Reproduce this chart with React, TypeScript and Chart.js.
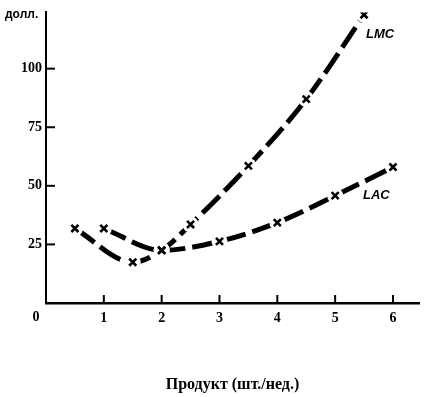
import { useEffect, useRef } from 'react';
import { Chart, registerables } from 'chart.js';
Chart.register(...registerables);

const lmcX = [0.5, 1.5, 2, 2.5, 3.5, 4.5, 5.5];
const lmcY = [31.8, 17.4, 22.5, 33.5, 58.5, 87, 123];
const lacX = [1, 2, 3, 4, 5, 6];
const lacY = [31.8, 22.5, 26.3, 34.3, 45.8, 58];
const xTicks = [1, 2, 3, 4, 5, 6];
const yTicks = [25, 50, 75, 100];
const xTitle = 'Продукт (шт./нед.)';
const yUnit = 'долл.';
const lmcLabel = 'LMC';
const lacLabel = 'LAC';

const pts = (xs: number[], ys: number[]) => xs.map((x, i) => ({ x, y: ys[i] }));

const decor = {
  id: 'decor',
  afterDraw(chart: any) {
    const { ctx } = chart;
    const x = chart.scales.x;
    const y = chart.scales.y;
    ctx.save();
    ctx.strokeStyle = '#000';
    ctx.lineWidth = 2;
    yTicks.forEach((v) => {
      const py = y.getPixelForValue(v);
      ctx.beginPath();
      ctx.moveTo(x.left, py);
      ctx.lineTo(x.left + 9, py);
      ctx.stroke();
    });
    xTicks.forEach((v) => {
      const px = x.getPixelForValue(v);
      ctx.beginPath();
      ctx.moveTo(px, y.bottom);
      ctx.lineTo(px, y.bottom - 8);
      ctx.stroke();
    });
    ctx.fillStyle = '#000';
    ctx.textBaseline = 'middle';
    ctx.textAlign = 'center';
    ctx.font = 'bold 14px "Liberation Serif"';
    ctx.fillText('0', x.left - 10, y.bottom + 14);
    ctx.textAlign = 'left';
    ctx.font = 'bold 12px "Liberation Sans"';
    ctx.fillText(yUnit, 5, 15);
    ctx.font = 'italic bold 13px "Liberation Sans"';
    const lmcPx = x.getPixelForValue(lmcX[lmcX.length - 1]);
    const lmcPy = y.getPixelForValue(lmcY[lmcY.length - 1]);
    ctx.fillText(lmcLabel, lmcPx + 2, lmcPy + 20);
    const lacPx = x.getPixelForValue(lacX[lacX.length - 1]);
    const lacPy = y.getPixelForValue(lacY[lacY.length - 1]);
    ctx.fillText(lacLabel, lacPx - 30, lacPy + 28);
    ctx.restore();
  },
};

export default function App() {
  const ref = useRef<HTMLCanvasElement>(null);
  useEffect(() => {
    const lineDs = (xs: number[], ys: number[]) => ({
      data: pts(xs, ys),
      borderColor: '#000',
      borderWidth: 5,
      borderDash: [24, 7],
      borderCapStyle: 'butt',
      cubicInterpolationMode: 'monotone',
      pointRadius: 0,
      fill: false,
      order: 3,
    });
    const gapDs = (xs: number[], ys: number[]) => ({
      data: pts(xs, ys),
      showLine: false,
      pointRadius: 8,
      pointStyle: 'circle',
      pointBackgroundColor: '#fff',
      pointBorderWidth: 0,
      pointBorderColor: '#fff',
      order: 2,
    });
    const markDs = (xs: number[], ys: number[]) => ({
      data: pts(xs, ys),
      showLine: false,
      pointRadius: 5,
      pointStyle: 'crossRot',
      pointBorderColor: '#000',
      pointBorderWidth: 2.6,
      order: 1,
    });
    const chart = new Chart(ref.current!, {
      type: 'line',
      data: {
        datasets: [
          lineDs(lmcX, lmcY) as any,
          lineDs(lacX, lacY) as any,
          gapDs(lmcX, lmcY) as any,
          gapDs(lacX, lacY) as any,
          markDs(lmcX, lmcY) as any,
          markDs(lacX, lacY) as any,
        ],
      },
      options: {
        animation: false,
        responsive: false,
        layout: { padding: { top: 12, right: 5, left: 0, bottom: 0 } },
        plugins: { legend: { display: false }, tooltip: { enabled: false } },
        scales: {
          x: {
            type: 'linear',
            min: 0,
            max: 6.45,
            afterBuildTicks: (s: any) => { s.ticks = [0, ...xTicks].map((v) => ({ value: v })); },
            afterFit: (s: any) => { s.height = 94; },
            grid: { display: false, drawTicks: false },
            border: { display: true, color: '#000', width: 2.5 },
            ticks: {
              autoSkip: false,
              maxRotation: 0,
              padding: 7,
              color: '#000',
              font: { family: 'Liberation Serif', weight: 'bold', size: 14 },
              callback: (v: any) => (xTicks.includes(v) ? String(v) : ''),
            },
            title: {
              display: true,
              text: xTitle,
              color: '#000',
              font: { family: 'Liberation Serif', weight: 'bold', size: 16 },
              padding: { top: 0, bottom: 3 },
            },
          },
          y: {
            type: 'linear',
            min: 0,
            max: 124,
            afterBuildTicks: (s: any) => { s.ticks = [0, ...yTicks].map((v) => ({ value: v })); },
            afterFit: (s: any) => { s.width = 46; },
            grid: { display: false, drawTicks: false },
            border: { display: true, color: '#000', width: 2 },
            ticks: {
              autoSkip: false,
              padding: 4,
              color: '#000',
              font: { family: 'Liberation Serif', weight: 'bold', size: 14 },
              callback: (v: any) => (yTicks.includes(v) ? String(v) : ''),
            },
          },
        },
      },
      plugins: [decor],
    } as any);
    return () => chart.destroy();
  }, []);
  return (
    <div style={{ position: 'fixed', left: 0, top: 0, width: 427, height: 397, background: '#fff' }}>
      <canvas ref={ref} width={427} height={397} />
    </div>
  );
}
